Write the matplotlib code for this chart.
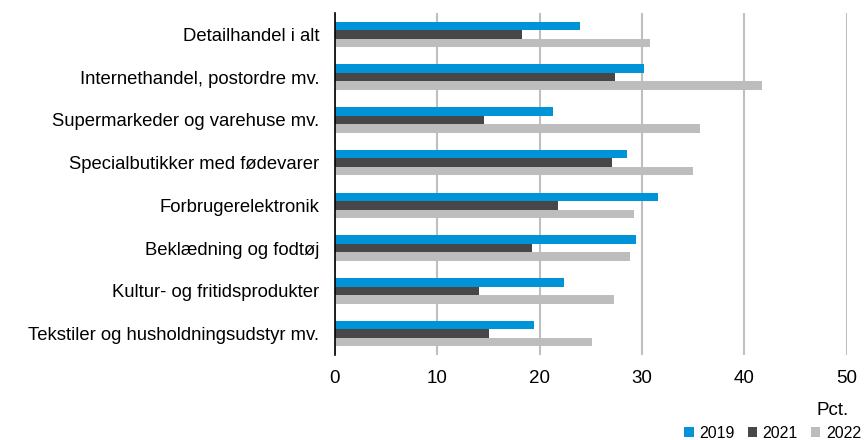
import matplotlib.pyplot as plt
import numpy as np

plt.rcParams['font.family'] = ['Liberation Sans', 'DejaVu Sans']

categories = ["Detailhandel i alt", "Internethandel, postordre mv.",
              "Supermarkeder og varehuse mv.", "Specialbutikker med fødevarer",
              "Forbrugerelektronik", "Beklædning og fodtøj",
              "Kultur- og fritidsprodukter", "Tekstiler og husholdningsudstyr mv."]
years = ["2019", "2021", "2022"]
v2019 = [23.9, 30.2, 21.3, 28.5, 31.6, 29.4, 22.4, 19.5]
v2021 = [18.3, 27.4, 14.6, 27.1, 21.8, 19.3, 14.1, 15.1]
v2022 = [30.8, 41.7, 35.7, 35.0, 29.2, 28.8, 27.3, 25.1]
colors = ["#0093d8", "#474747", "#bdbdbd"]

fig = plt.figure(figsize=(8.65, 4.4), dpi=100)
ax = fig.add_axes([0.387, 0.1934, 0.592, 0.777])

y = np.arange(len(categories))
h = 0.2
for i, (vals, lab, c) in enumerate(zip([v2019, v2021, v2022], years, colors)):
    ax.barh(y + (i - 1) * h, vals, height=h, color=c, label=lab, zorder=3)

ax.set_ylim(len(categories) - 0.5, -0.5)
ax.set_xlim(0, 50)
ax.set_xticks(range(0, 51, 10))
ax.set_yticks(y)
ax.set_yticklabels(categories, fontsize=13.3)
ax.tick_params(axis='both', length=0)
ax.tick_params(axis='x', labelsize=13.5, pad=11)
ax.tick_params(axis='y', pad=11)
ax.grid(axis='x', color='#bfbfbf', linewidth=1.5, zorder=0)
for s in ['top', 'right', 'bottom']:
    ax.spines[s].set_visible(False)
ax.spines['left'].set_color('#000000')
ax.spines['left'].set_linewidth(1.2)
ax.spines['left'].set_zorder(4)

fig.text(0.981, 0.048, "Pct.", ha='right', va='bottom', fontsize=13.5)
fig.legend(loc='lower right', bbox_to_anchor=(1.012, -0.035), ncol=3, frameon=False,
           fontsize=11.5, handlelength=0.6, handleheight=0.6, handletextpad=0.35,
           columnspacing=0.8)

fig.savefig("out.png", dpi=100)
